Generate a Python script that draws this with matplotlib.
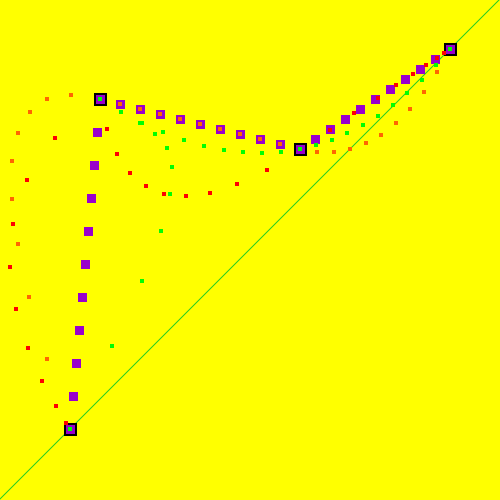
import matplotlib
matplotlib.use("Agg")
import matplotlib.pyplot as plt

# control points (pixel-like coordinates, y grows downward)
ctrl_x = [70, 100, 300, 450]
ctrl_y = [429, 99, 149, 49]

# purple points along the straight segments
purple_x = [97, 94, 91, 88, 85, 82, 79, 76, 73,
            120, 140, 160, 180, 200, 220, 240, 260, 280,
            315, 330, 345, 360, 375, 390, 405, 420, 435]
purple_y = [132, 165, 198, 231, 264, 297, 330, 363, 396,
            104, 109, 114, 119, 124, 129, 134, 139, 144,
            139, 129, 119, 109, 99, 89, 79, 69, 59]

# orange curve
orange_x = [47, 29, 18, 12, 12, 18, 30, 47, 71,
            120, 140, 160, 180, 200, 220, 240, 260, 280,
            317, 334, 350, 366, 381, 396, 410, 424, 437]
orange_y = [359, 297, 244, 199, 161, 133, 112, 99, 95,
            104, 109, 114, 119, 124, 129, 134, 139, 144,
            152, 152, 149, 143, 135, 123, 109, 92, 72]

# red curve
red_x = [66, 56, 42, 28, 16, 10, 13, 27, 55,
         107, 117, 130, 146, 164, 186, 210, 237, 267,
         330, 354, 378, 396, 413, 426, 437, 444]
red_y = [423, 406, 381, 348, 309, 267, 224, 180, 138,
         129, 154, 173, 186, 194, 196, 193, 184, 170,
         130, 113, 98, 85, 74, 65, 58, 53]

# green curve
green_x = [112, 142, 161, 170, 172, 167, 155, 140, 121,
           121, 142, 163, 184, 204, 224, 243, 262, 281,
           316, 332, 347, 363, 378, 393, 407, 422, 436]
green_y = [346, 281, 231, 194, 167, 148, 134, 123, 112,
           112, 123, 132, 140, 146, 150, 152, 153, 152,
           145, 140, 133, 125, 116, 105, 93, 80, 65]

YELLOW = "#ffff00"
PURPLE = "#9900cc"
ORANGE = "#ff6600"
RED = "#ff0000"
GREEN = "#00ff00"

fig = plt.figure(figsize=(5, 5), dpi=100, facecolor=YELLOW)
ax = fig.add_axes([0, 0, 1, 1])
ax.set_facecolor(YELLOW)
ax.set_xlim(0, 500)
ax.set_ylim(500, 0)
ax.axis("off")

# line through the first and last control points
ax.axline((ctrl_x[0], ctrl_y[0]), (ctrl_x[-1], ctrl_y[-1]),
          color="#22cc22", lw=0.72, zorder=0)

px = 72 / 100  # points per pixel
sq = dict(marker="s", linestyle="none", markeredgewidth=0)

ax.plot(ctrl_x, ctrl_y, color="black", markersize=13 * px, zorder=1, **sq)
ax.plot(ctrl_x, ctrl_y, color=PURPLE, markersize=9 * px, zorder=2, **sq)
ax.plot(purple_x, purple_y, color=PURPLE, markersize=9 * px, zorder=2, **sq)
ax.plot(orange_x, orange_y, color=ORANGE, markersize=5 * px, zorder=3, **sq)
ax.plot(red_x, red_y, color=RED, markersize=5 * px, zorder=4, **sq)
ax.plot(green_x, green_y, color=GREEN, markersize=5 * px, zorder=5, **sq)
ax.plot(ctrl_x, ctrl_y, color=GREEN, markersize=5 * px, zorder=5, **sq)

fig.savefig("out.png", dpi=100, facecolor=YELLOW)
